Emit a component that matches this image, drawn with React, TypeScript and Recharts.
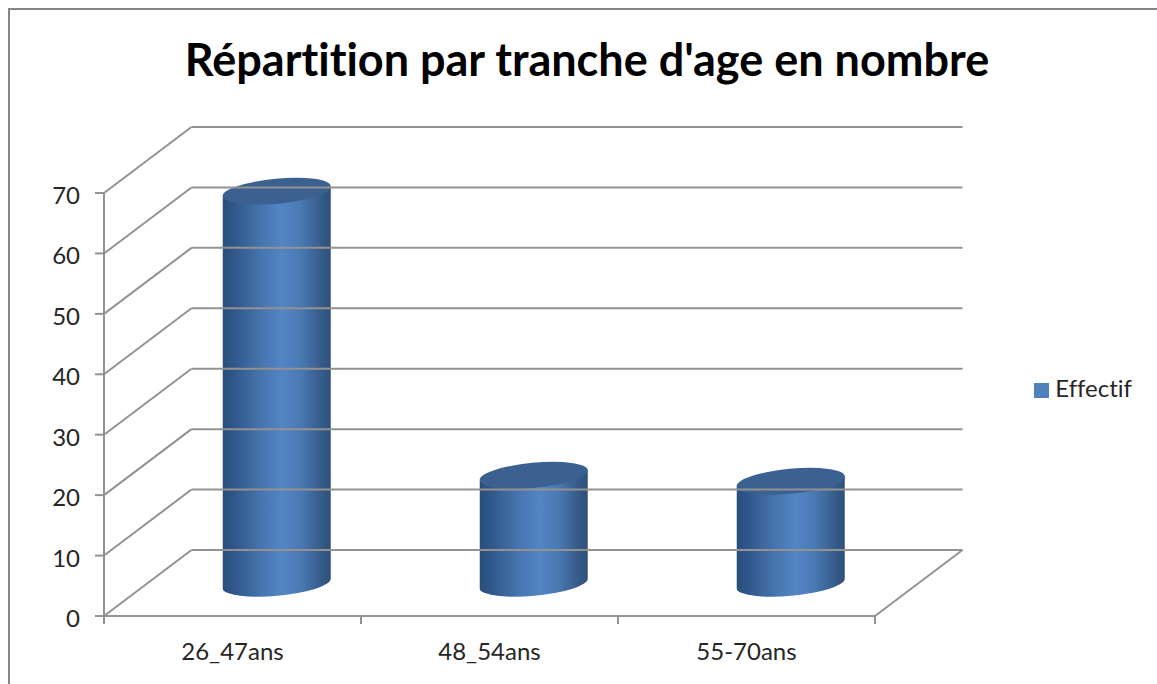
import React from "react";
import { BarChart, Bar, XAxis, YAxis, Legend } from "recharts";

const categories = ["26_47ans", "48_54ans", "55-70ans"];
const effectif = [65, 18, 17];
const yTicks = [0, 10, 20, 30, 40, 50, 60, 70];
const chartTitle = "Répartition par tranche d'age en nombre";
const seriesName = "Effectif";

const data = categories.map((name, i) => ({ name, [seriesName]: effectif[i] }));

const W = 1157;
const H = 684;
const PLOT_LEFT = 104;
const PLOT_RIGHT = 875;
const PLOT_TOP = 193;
const PLOT_BOTTOM = 616;
const DEPTH_X = 87.5;
const DEPTH_Y = 66;
const BAND = (PLOT_RIGHT - PLOT_LEFT) / categories.length;
const LEGEND_W = 120;
const AXIS = "#929292";
const LINE = 2;
const FONT = "Lato, 'Open Sans', sans-serif";

const Cylinder = (props: any) => {
  const { x, y, width, height } = props;
  const left = x + DEPTH_X / 2;
  const right = left + width;
  const cy = y - DEPTH_Y / 2 + 1;
  const by = y + height - DEPTH_Y / 2 + 1;
  const tilt = 5;
  const rx = width / 2 + 0.3;
  const ry = 12.5;
  const rot = -5.3;
  const side = `M${left},${cy + tilt} L${left},${by + tilt} A${rx},${ry} ${rot} 0 0 ${right},${by - tilt} L${right},${cy - tilt} Z`;
  return (
    <g>
      <path d={side} fill="url(#cyl)" />
      <ellipse cx={(left + right) / 2} cy={cy} rx={rx} ry={ry} transform={`rotate(${rot} ${(left + right) / 2} ${cy})`} fill="#3b6191" />
    </g>
  );
};

const YTick = (props: any) => {
  const { y, payload } = props;
  const isZero = payload.value === 0;
  return (
    <g>
      <line x1={PLOT_LEFT} y1={y} x2={PLOT_LEFT + DEPTH_X} y2={y - DEPTH_Y} stroke={AXIS} strokeWidth={LINE} />
      <line x1={PLOT_LEFT + DEPTH_X} y1={y - DEPTH_Y} x2={PLOT_RIGHT + DEPTH_X} y2={y - DEPTH_Y} stroke={AXIS} strokeWidth={LINE} />
      {isZero && <line x1={PLOT_RIGHT} y1={y} x2={PLOT_RIGHT + DEPTH_X} y2={y - DEPTH_Y} stroke={AXIS} strokeWidth={LINE} />}
      <text x={80} y={y + 11} textAnchor="end" fontFamily={FONT} fontSize={24} fill="#262626">{payload.value}</text>
    </g>
  );
};

const XTick = (props: any) => {
  const { x, payload, index } = props;
  const base = PLOT_BOTTOM;
  return (
    <g>
      <line x1={x - BAND / 2} y1={base} x2={x - BAND / 2} y2={base + 8} stroke={AXIS} strokeWidth={LINE} />
      {index === categories.length - 1 && <line x1={x + BAND / 2} y1={base} x2={x + BAND / 2} y2={base + 8} stroke={AXIS} strokeWidth={LINE} />}
      <text x={x} y={base + 44} textAnchor="middle" fontFamily={FONT} fontSize={24} fill="#262626">{payload.value}</text>
    </g>
  );
};

export default function App() {
  return (
    <div style={{ position: "absolute", left: 0, top: 0, width: W, height: H, background: "#fff", overflow: "hidden", fontVariantLigatures: "none" }}>
      <div style={{ position: "absolute", left: 8, top: 8, width: W, height: H, borderLeft: "2px solid #868686", borderTop: "2px solid #868686" }} />
      <BarChart
        width={W}
        height={H}
        data={data}
        margin={{ top: PLOT_TOP, left: PLOT_LEFT - 60, right: W - PLOT_RIGHT - LEGEND_W, bottom: 8 }}
        barSize={108}
        style={{ position: "absolute", left: 0, top: 0 }}
      >
        <defs>
          <linearGradient id="cyl" x1="0" y1="0" x2="1" y2="0">
            <stop offset="0" stopColor="#284e7c" />
            <stop offset="0.12" stopColor="#32598c" />
            <stop offset="0.35" stopColor="#4674ad" />
            <stop offset="0.55" stopColor="#5385c6" />
            <stop offset="0.72" stopColor="#4a79b3" />
            <stop offset="0.92" stopColor="#355a88" />
            <stop offset="1" stopColor="#2f5078" />
          </linearGradient>
        </defs>
        <text x={587} y={76} textAnchor="middle" fontFamily={FONT} fontSize={45} fontWeight={700} fill="#000">{chartTitle}</text>
        <YAxis
          width={60}
          domain={[0, 70]}
          ticks={yTicks}
          interval={0}
          tick={<YTick />}
          tickSize={9}
          axisLine={{ stroke: AXIS, strokeWidth: LINE }}
          tickLine={{ stroke: AXIS, strokeWidth: LINE }}
        />
        <XAxis
          dataKey="name"
          height={60}
          interval={0}
          tick={<XTick />}
          tickLine={false}
          axisLine={{ stroke: AXIS, strokeWidth: LINE }}
        />
        <Legend
          layout="horizontal"
          verticalAlign="middle"
          align="right"
          iconType="square"
          iconSize={15}
          wrapperStyle={{ position: "absolute", left: 1022, top: 373, width: LEGEND_W, height: 30, fontFamily: FONT, fontSize: 24 }}
          formatter={(v: string) => <span style={{ color: "#262626", marginLeft: 2 }}>{v}</span>}
        />
        <Bar dataKey={seriesName} fill="#4f81bd" isAnimationActive={false} shape={<Cylinder />} />
      </BarChart>
    </div>
  );
}
